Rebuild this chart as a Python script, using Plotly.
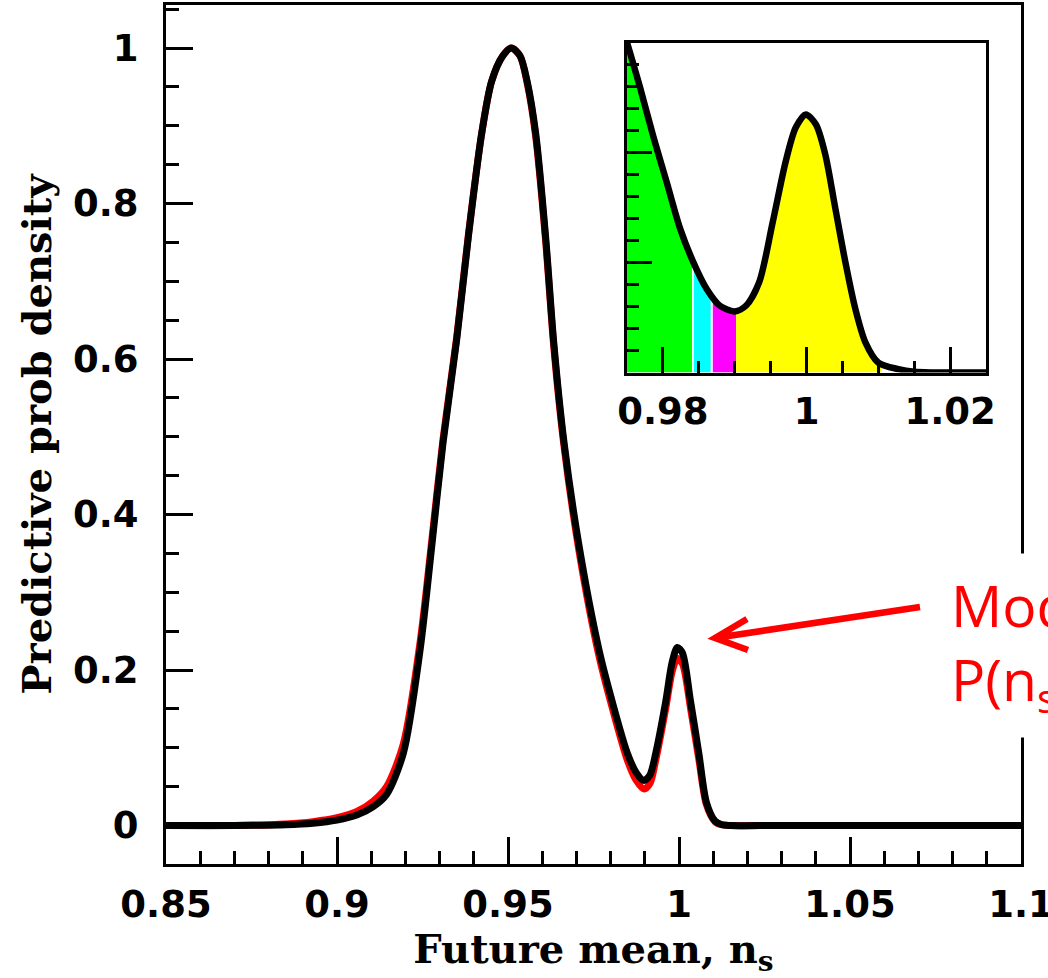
import numpy as np
import plotly.graph_objects as go

# ---------------- data ----------------
main_x = [0.85, 0.87, 0.885, 0.893, 0.9, 0.9058, 0.9105, 0.9145, 0.9194, 0.9243, 0.9277,
          0.931, 0.935, 0.9384, 0.9423, 0.9452, 0.9485, 0.951, 0.9535, 0.9556, 0.9581,
          0.961, 0.9634, 0.9664, 0.9708, 0.9766, 0.9805, 0.9849, 0.9875, 0.9898, 0.9915,
          0.9932, 0.9961, 0.998, 0.9995, 1.001, 1.0034, 1.0058, 1.008, 1.0105, 1.0125,
          1.015, 1.03, 1.1]
black_y = [0.0, 0.0, 0.001, 0.003, 0.007, 0.0135, 0.024, 0.040, 0.093, 0.226, 0.359,
           0.492, 0.625, 0.757, 0.890, 0.957, 0.990, 1.0, 0.990, 0.957, 0.890,
           0.757, 0.620, 0.492, 0.359, 0.226, 0.159, 0.093, 0.068, 0.058, 0.065,
           0.093, 0.159, 0.210, 0.229, 0.222, 0.159, 0.093, 0.030, 0.006, 0.001,
           0.0, 0.0, 0.0]
red_y = [0.0, 0.0, 0.002, 0.005, 0.010, 0.018, 0.031, 0.050, 0.105, 0.236, 0.366,
         0.497, 0.628, 0.759, 0.890, 0.957, 0.990, 1.0, 0.990, 0.955, 0.886,
         0.752, 0.615, 0.487, 0.352, 0.218, 0.151, 0.084, 0.058, 0.047, 0.054,
         0.084, 0.150, 0.198, 0.215, 0.208, 0.150, 0.085, 0.027, 0.005, 0.001,
         0.0, 0.0, 0.0]

inset_x = [0.9748, 0.9768, 0.9787, 0.9805, 0.9824, 0.9842, 0.9861, 0.9879, 0.990, 0.9916,
           0.9934, 0.9953, 0.9971, 0.9985, 0.9999, 1.0013, 1.0026, 1.004, 1.0054, 1.0068,
           1.0082, 1.010, 1.0128, 1.015, 1.0175, 1.025]
inset_y = [0.305, 0.260, 0.214, 0.174, 0.131, 0.101, 0.076, 0.061, 0.0556, 0.061,
           0.082, 0.137, 0.192, 0.223, 0.235, 0.226, 0.199, 0.150, 0.101, 0.058,
           0.0275, 0.009, 0.003, 0.0006, 0.0, 0.0]

region_start = [0.9748, 0.9843, 0.98695, 0.9902]
region_end = [0.98405, 0.98665, 0.9902, 1.0105]
region_color = ["#00ff00", "#00ffff", "#ff00ff", "#ffff00"]

x_ticks_main = [0.85, 0.9, 0.95, 1.0, 1.05, 1.1]
x_labels_main = ["0.85", "0.9", "0.95", "1", "1.05", "1.1"]
y_ticks_main = [0, 0.2, 0.4, 0.6, 0.8, 1.0]
y_labels_main = ["0", "0.2", "0.4", "0.6", "0.8", "1"]

# ---------------- layout geometry ----------------
W, H = 1048, 978
ML, MR, MT, MB = 166, 27, 5, 114
PW, PH = W - ML - MR, H - MT - MB


def px_x(p):
    return (p - ML) / PW


def px_y(p):
    return (H - MB - p) / PH


fig = go.Figure()

# main curves
fig.add_trace(go.Scatter(x=main_x, y=red_y, mode="lines",
                         line=dict(color="#ff0000", width=7, shape="spline", smoothing=0.8),
                         hoverinfo="skip", showlegend=False))
fig.add_trace(go.Scatter(x=main_x, y=black_y, mode="lines",
                         line=dict(color="#000000", width=7, shape="spline", smoothing=0.8),
                         hoverinfo="skip", showlegend=False))

# inset filled regions
ix = np.array(inset_x)
iy = np.array(inset_y)
for a, b, c in zip(region_start, region_end, region_color):
    inner = ix[(ix > a) & (ix < b)]
    xs = np.concatenate([[a], inner, [b]])
    ys = np.interp(xs, ix, iy)
    fig.add_trace(go.Scatter(x=xs, y=ys, mode="lines", fill="tozeroy", fillcolor=c,
                             line=dict(color=c, width=0, shape="spline", smoothing=0.8),
                             xaxis="x2", yaxis="y2", hoverinfo="skip", showlegend=False))

fig.add_trace(go.Scatter(x=inset_x, y=inset_y, mode="lines",
                         line=dict(color="#000000", width=6.5, shape="spline", smoothing=0.8),
                         xaxis="x2", yaxis="y2", hoverinfo="skip", showlegend=False))

tick_font = dict(family="DejaVu Sans", size=37, color="#000000", weight="bold")
title_font = dict(family="DejaVu Serif", size=40, color="#000000", weight="bold")

fig.update_layout(
    width=W, height=H,
    margin=dict(l=ML, r=MR, t=MT, b=MB, autoexpand=False),
    paper_bgcolor="white", plot_bgcolor="white",
    showlegend=False,
    xaxis=dict(range=[0.85, 1.1], tickvals=x_ticks_main, ticktext=x_labels_main,
               ticks="inside", ticklen=27, tickwidth=2.5, tickcolor="black",
               minor=dict(ticks="inside", ticklen=13, tickwidth=2.5, tickcolor="black", dtick=0.01, tick0=0.85),
               showline=True, linewidth=3, linecolor="black", mirror=True, automargin=False,
               showgrid=False, zeroline=False, tickfont=tick_font, ticklabelstandoff=6,
               ticklabeloverflow="allow",
               title=dict(text="Future mean, n<sub>s</sub>", font=title_font, standoff=2)),
    yaxis=dict(range=[-0.0495, 1.0553], tickvals=y_ticks_main, ticktext=y_labels_main,
               ticks="inside", ticklen=27, tickwidth=2.5, tickcolor="black",
               minor=dict(ticks="inside", ticklen=13, tickwidth=2.5, tickcolor="black", dtick=0.05, tick0=0),
               showline=True, linewidth=3, linecolor="black", mirror=True, automargin=False,
               showgrid=False, zeroline=False, tickfont=tick_font, ticklabelstandoff=17,
               title=dict(text="Predictive prob density", font=title_font, standoff=10)),
    xaxis2=dict(domain=[px_x(627), px_x(986)], anchor="y2", range=[0.975, 1.025],
                tick0=0.98, dtick=0.02, ticks="inside", ticklen=26, tickwidth=2.5, tickcolor="black",
                minor=dict(ticks="inside", ticklen=12, tickwidth=2.5, tickcolor="black", dtick=0.005, tick0=0.975),
                showline=True, linewidth=3, linecolor="black", mirror=True, automargin=False,
                showgrid=False, zeroline=False, tickfont=tick_font, ticklabelstandoff=4),
    yaxis2=dict(domain=[px_y(372.5), px_y(43)], anchor="x2", range=[0, 0.3],
                tick0=0, dtick=0.1, ticks="inside", ticklen=25, tickwidth=2.5, tickcolor="black",
                minor=dict(ticks="inside", ticklen=12, tickwidth=2.5, tickcolor="black", dtick=0.02, tick0=0),
                showline=True, linewidth=3, linecolor="black", mirror=True, showticklabels=False,
                automargin=False, showgrid=False, zeroline=False),
)

# arrow (shaft + open chevron head)
tail = (920, 607)
tip = (715, 638)
w1 = (747, 619)
w2 = (748, 650)
path = (f"M{px_x(tail[0])},{px_y(tail[1])} L{px_x(tip[0])},{px_y(tip[1])} "
        f"M{px_x(w1[0])},{px_y(w1[1])} L{px_x(tip[0])},{px_y(tip[1])} L{px_x(w2[0])},{px_y(w2[1])}")
fig.add_shape(type="path", path=path, xref="paper", yref="paper",
              line=dict(color="#ff0000", width=6.5), layer="above")

fig.add_annotation(xref="paper", yref="paper", x=px_x(938), y=px_y(645), xanchor="left", yanchor="middle",
                   text="Model-averaged<br>P(n<sub>s</sub>|data)", showarrow=False, align="left",
                   font=dict(family="Open Sans", size=57, color="#ff0000"),
                   bgcolor="white", borderpad=12)

fig.write_html("out.html")
